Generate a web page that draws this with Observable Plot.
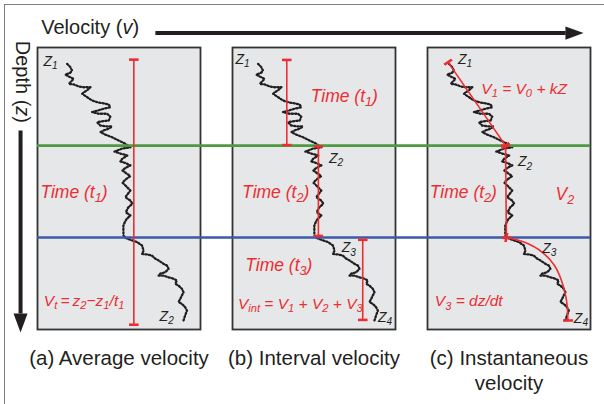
<!DOCTYPE html>
<html><head><meta charset="utf-8">
<script src="https://cdn.jsdelivr.net/npm/d3@7"></script>
<script src="https://cdn.jsdelivr.net/npm/@observablehq/plot@0.6"></script>
<style>
html,body{margin:0;padding:0;background:#fff;}
#wrap{position:relative;width:604px;height:404px;overflow:hidden;}
#border{position:absolute;left:4px;top:4px;width:640px;height:440px;border:1px solid #7d7d7d;pointer-events:none;}
svg{display:block;}
</style></head><body>
<div id="wrap"><div id="border"></div></div>
<script>
// ---------- data ----------
const panels = ["a", "b", "c"];
const panelShift = [0, -2.5, -5];            // velocity offset of the log drawn in each panel
const captions = ["(a) Average velocity", "(b) Interval velocity", "(c) Instantaneous\nvelocity"];

// well log (panel a units: velocity 0-100, depth 0-100)
const logVelocity = [18.2,20.2,21.2,19.8,17.1,19.2,22.2,20.2,19.2,22.2,25.3,28.4,32.5,30.4,28.4,27.4,30.4,33.5,36.6,40.6,43.7,44.7,40.6,35.5,33.5,37.5,42.7,44.7,43.7,40.6,36.6,38.6,42.7,45.7,43.7,40.6,38.6,41.6,45.7,49.8,53.9,57.0,
  52.1,47.2,50.8,55.1,52.1,50.8,54.5,57.0,53.9,52.1,54.9,57.0,54.5,52.1,54.9,57.0,55.4,53.9,57.0,58.2,55.7,54.2,57.0,54.8,53.6,52.7,52.7,52.7,
  52.8,53.9,57.0,61.1,64.1,65.1,64.1,67.2,70.2,72.3,74.3,77.3,79.4,80.4,78.4,75.3,74.3,77.3,80.4,83.5,85.5,84.5,86.5,88.6,89.6,88.6,87.6,86.5,88.6,90.6,91.7,90.6,89.6];
const logDepth = [5.8,7.0,8.2,9.1,9.6,10.3,11.1,12.3,12.9,13.1,13.8,14.1,14.1,15.2,15.9,16.4,17.6,18.8,19.4,19.8,20.2,21.2,21.7,22.6,22.9,23.5,23.5,24.5,25.9,26.1,26.5,27.7,28.0,28.0,28.8,29.4,30.0,30.9,31.8,33.0,34.1,35.4,
  35.8,36.9,37.6,38.3,39.4,40.4,41.1,41.8,42.7,43.6,44.8,45.6,46.6,47.9,49.5,50.7,51.9,53.1,54.3,55.4,56.7,58.4,59.6,60.7,61.9,63.1,64.4,66.0,
  66.7,67.5,68.2,69.0,70.2,72.0,73.2,73.4,73.8,74.9,75.5,76.7,77.3,78.5,79.7,80.2,80.9,80.9,81.5,82.0,82.6,83.8,84.4,85.6,86.8,87.9,89.1,90.3,90.9,92.1,93.3,95.0,96.8];

// layer boundaries
const boundaryDepth = [34.8, 67.4];
const boundaryColor = ["#4e9a40", "#3d5aa8"];

// red interval bars
const barPanel = ["a", "b", "b", "b", "c", "c"];
const barV1 = [59.1, 33.3, 52.7, 79.9, 12.6, 47.9];
const barZ1 = [4.3, 4.4, 35.1, 68.2, 5.2, 34.8];
const barV2 = [59.1, 33.3, 52.7, 79.9, 47.9, 48.4];
const barZ2 = [98.3, 34.6, 66.8, 96.6, 34.8, 67.4];

// instantaneous velocity curve (panel c)
const curveV = [48.4, 59.6, 70.6, 77.9, 82.2, 85.0, 85.9, 86.1];
const curveZ = [67.4, 69.1, 72.7, 77.3, 82.6, 88.7, 93.3, 96.8];

// depth labels
const zLabelPanel = ["a", "a", "b", "b", "b", "b", "c", "c", "c", "c"];
const zLabelText = ["Z_{1}", "Z_{2}", "Z_{1}", "Z_{2}", "Z_{3}", "Z_{4}", "Z_{1}", "Z_{2}", "Z_{3}", "Z_{4}"];
const zLabelV = [3.7, 74.9, 1.8, 59.2, 67.0, 89.2, 18.7, 55.5, 70.4, 89.8];
const zLabelZ = [5.1, 95.5, 4.2, 39.2, 71.1, 95.8, 4.4, 40.6, 71.3, 96.2];

// red time labels
const timePanel = ["a", "b", "b", "b", "c", "c"];
const timeText = ["Time (t_{1})", "Time (t_{1})", "Time (t_{2})", "Time (t_{3})", "Time (t_{2})", "V_{2}"];
const timeV = [1.8, 48.0, 5.9, 7.8, 1.4, 78.6];
const timeZ = [51.5, 17.5, 51.5, 77.4, 51.5, 52.0];

// red formulas
const formulaPanel = ["a", "b", "c", "c"];
const formulaText = ["V_{t}\u2009=\u2009z_{2}\u2212z_{1}/t_{1}", "V_{int} = V_{1} + V_{2} + V_{3}", "V_{1} = V_{0} + kZ", "V_{3} = dz/dt"];
const formulaV = [3.9, 3.3, 33.0, 4.5];
const formulaZ = [89.8, 91.0, 14.6, 90.0];

// axis arrows (in panel a units)
const axisLabelText = ["Velocity (*v*)", "Depth (*z*)"];
const axisLabelV = [2.3, -9.2];
const axisLabelZ = [-7.1, 12.2];
const axisLineV1 = [72.3, -10.4], axisLineZ1 = [-5.1, 29.4];
const axisLineV2 = [324.0, -10.4], axisLineZ2 = [-5.1, 94.3];
const headId = ["v", "v", "v", "z", "z", "z"];
const headV = [323.9, 335.0, 323.9, -14.7, -10.4, -6.1];
const headZ = [-7.45, -5.1, -2.75, 94.3, 101.1, 94.3];

// ---------- tables ----------
const PAD = 0.164;
const SPAN = 100 * (1 + 2 / (1 - PAD));
const red = "#ec2d31", ink = "#231f20";

const logRows = panels.flatMap((p, i) => logVelocity.map((v, j) => ({panel: p, v: v + panelShift[i], z: logDepth[j]})));
const boundaryRows = boundaryDepth.map((z, i) => ({panel: "a", z, x1: 0, x2: SPAN, color: boundaryColor[i]}));
const barRows = barPanel.map((p, i) => ({panel: p, x1: barV1[i], y1: barZ1[i], x2: barV2[i], y2: barZ2[i]}));
const curveRows = curveV.map((v, i) => ({panel: "c", v, z: curveZ[i]}));
const zRows = zLabelPanel.map((p, i) => ({panel: p, v: zLabelV[i], z: zLabelZ[i], t: zLabelText[i]}));
const timeRows = timePanel.map((p, i) => ({panel: p, v: timeV[i], z: timeZ[i], t: timeText[i]}));
const formulaRows = formulaPanel.map((p, i) => ({panel: p, v: formulaV[i], z: formulaZ[i], t: formulaText[i]}));
const capRows = panels.map((p, i) => ({panel: p, t: captions[i]}));
const axisLabelRows = axisLabelText.map((t, i) => ({panel: "a", t, v: axisLabelV[i], z: axisLabelZ[i]}));
const axisLineRows = axisLineV1.map((v, i) => ({panel: "a", x1: v, y1: axisLineZ1[i], x2: axisLineV2[i], y2: axisLineZ2[i]}));
const headRows = headId.map((id, i) => ({panel: "a", id, v: headV[i], z: headZ[i]}));

const chart = Plot.plot({
  width: 604, height: 404,
  marginLeft: 37, marginRight: 13, marginTop: 47, marginBottom: 75,
  style: {fontFamily: "'Liberation Sans', Arial, Helvetica, sans-serif", background: "transparent", color: ink, overflow: "visible"},
  fx: {domain: panels, paddingInner: PAD, paddingOuter: 0, axis: null, label: null},
  x: {domain: [0, 100], axis: null},
  y: {domain: [0, 100], reverse: true, axis: null},
  marks: [
    Plot.frame({fill: "#e6e7e8", stroke: "#333", strokeWidth: 1.8}),
    Plot.line(logRows, {fx: "panel", x: "v", y: "z", z: "panel", stroke: ink, strokeWidth: 2.3, strokeDasharray: "1.3 2.1"}),
    Plot.ruleY(boundaryRows, {fx: "panel", y: "z", x1: "x1", x2: "x2", stroke: "color", strokeWidth: 2.6}),
    Plot.link(barRows, {fx: "panel", x1: "x1", y1: "y1", x2: "x2", y2: "y2", stroke: red, strokeWidth: 1.6, markerStart: "tick", markerEnd: "tick"}),
    Plot.line(curveRows, {fx: "panel", x: "v", y: "z", stroke: red, strokeWidth: 1.6, curve: "catmull-rom", markerStart: "tick", markerEnd: "tick"}),
    Plot.link(axisLineRows, {fx: "panel", x1: "x1", y1: "y1", x2: "x2", y2: "y2", stroke: ink, strokeWidth: 4}),
    Plot.line(headRows, {fx: "panel", x: "v", y: "z", z: "id", fill: ink, stroke: "none"}),
    Plot.text(zRows, {fx: "panel", x: "v", y: "z", text: "t", textAnchor: "start", fontSize: 14, fontStyle: "italic", fill: ink}),
    Plot.text(timeRows, {fx: "panel", x: "v", y: "z", text: "t", textAnchor: "start", fontSize: 17.5, fontStyle: "italic", fill: red}),
    Plot.text(formulaRows, {fx: "panel", x: "v", y: "z", text: "t", textAnchor: "start", fontSize: 15.5, fontStyle: "italic", fill: red}),
    Plot.text(axisLabelRows.slice(0, 1), {fx: "panel", x: "v", y: "z", text: "t", textAnchor: "start", fontSize: 20, fill: ink}),
    Plot.text(axisLabelRows.slice(1), {fx: "panel", x: "v", y: "z", text: "t", rotate: 90, textAnchor: "middle", fontSize: 20, fill: ink}),
    Plot.text(capRows, {fx: "panel", text: "t", frameAnchor: "bottom", lineAnchor: "top", dy: 18, fontSize: 20.5, lineHeight: 1.2, fill: ink})
  ]
});
document.getElementById("wrap").prepend(chart);

// rich text: _{...} subscripts and *...* italics
const NS = "http://www.w3.org/2000/svg";
chart.querySelectorAll("text").forEach(t => {
  if (t.querySelector("tspan")) return;
  const s = t.textContent;
  if (!/_\{|\*/.test(s)) return;
  const fs = parseFloat(getComputedStyle(t).fontSize) || 16;
  const drop = fs * 0.22;
  t.textContent = "";
  let shifted = false;
  for (const m of s.matchAll(/(_\{[^}]*\})|(\*[^*]*\*)|([^_*]+)/g)) {
    const ts = document.createElementNS(NS, "tspan");
    if (m[1]) {
      ts.textContent = m[1].slice(2, -1);
      ts.setAttribute("font-size", (fs * 0.72) + "px");
      ts.setAttribute("dy", drop);
      shifted = true;
    } else {
      ts.textContent = m[2] ? m[2].slice(1, -1) : m[3];
      if (m[2]) ts.setAttribute("font-style", "italic");
      if (shifted) { ts.setAttribute("dy", -drop); shifted = false; }
    }
    t.appendChild(ts);
  }
});
</script>
</body></html>
